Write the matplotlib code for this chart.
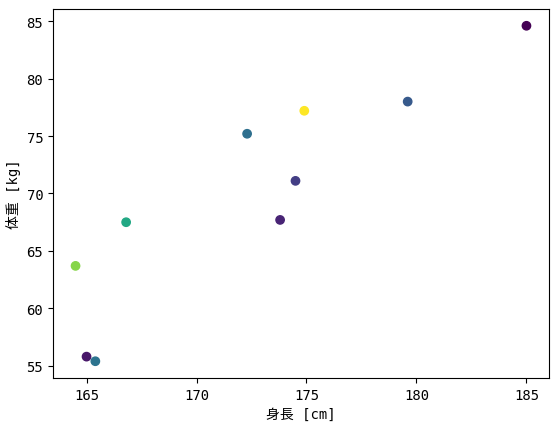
import matplotlib
matplotlib.use("Agg")
from matplotlib import pyplot as plt

plt.rcParams['font.family'] = ['DejaVu Sans Mono', 'Noto Sans CJK JP']

height = [185.0, 165.0, 165.4, 164.5, 166.8, 172.3, 174.9, 179.6, 174.5, 173.8]
weight = [84.6, 55.8, 55.4, 63.7, 67.5, 75.2, 77.2, 78.0, 71.1, 67.7]
color_val = [0.0, 0.06, 0.38, 0.82, 0.60, 0.36, 1.0, 0.28, 0.18, 0.10]

fig = plt.figure(figsize=(5.59, 4.31), dpi=100)
ax = fig.add_axes([53 / 559, 52 / 431, 496 / 559, 369 / 431])
ax.scatter(height, weight, c=color_val, cmap='viridis', vmin=0, vmax=1)
ax.set_xlabel('身長 [cm]')
ax.set_ylabel('体重 [kg]')

fig.savefig('out.png', dpi=100)
